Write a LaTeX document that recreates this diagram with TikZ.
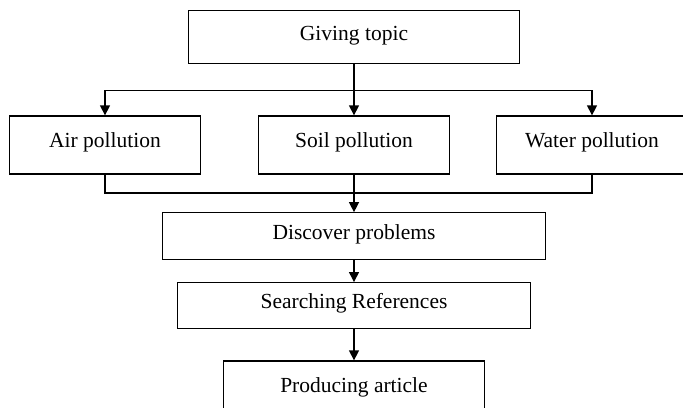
\documentclass[tikz,border=0pt]{standalone}
\usepackage{fontspec}
\setmainfont{Liberation Serif}
\usetikzlibrary{arrows.meta}
\tikzstyle{block}=[draw,rectangle,line width=0.65pt,inner sep=0pt,minimum width=95.75pt,minimum height=29pt,text height=1.6ex,text depth=1ex,font=\fontsize{10.75}{13}\selectfont]
\tikzstyle{link}=[line width=0.65pt,-{Triangle[width=5pt,length=5pt]}]

\begin{document}
\begin{tikzpicture}[x=0.5pt,y=-0.5pt]
\clip (0,0) rectangle (683,407);
\node[block,minimum width=165.5pt,minimum height=26.5pt] (topic) at (354,37.3) {Giving topic};
\node[block] (air) at (105,145) {Air pollution};
\node[block] (soil) at (354,145) {Soil pollution};
\node[block] (water) at (592,145) {Water pollution};
\node[block,minimum width=191.5pt,minimum height=23.5pt] (disc) at (354,236.3) {Discover problems};
\node[block,minimum width=176.5pt,minimum height=22.8pt] (search) at (354,305.5) {Searching References};
\node[block,minimum width=130.5pt] (article) at (354,390) {Producing article};
\coordinate (split) at (354,90.7);
\coordinate (merge) at (354,193);
\draw[link] (topic) -- (soil);
\draw[link] (topic) -- (split) -| (air);
\draw[link] (split) -| (water);
\draw[line width=0.65pt] (air) |- (merge) -| (water);
\draw[link] (soil) -- (disc);
\draw[link] (disc) -- (search);
\draw[link] (search) -- (article);
\end{tikzpicture}
\end{document}
